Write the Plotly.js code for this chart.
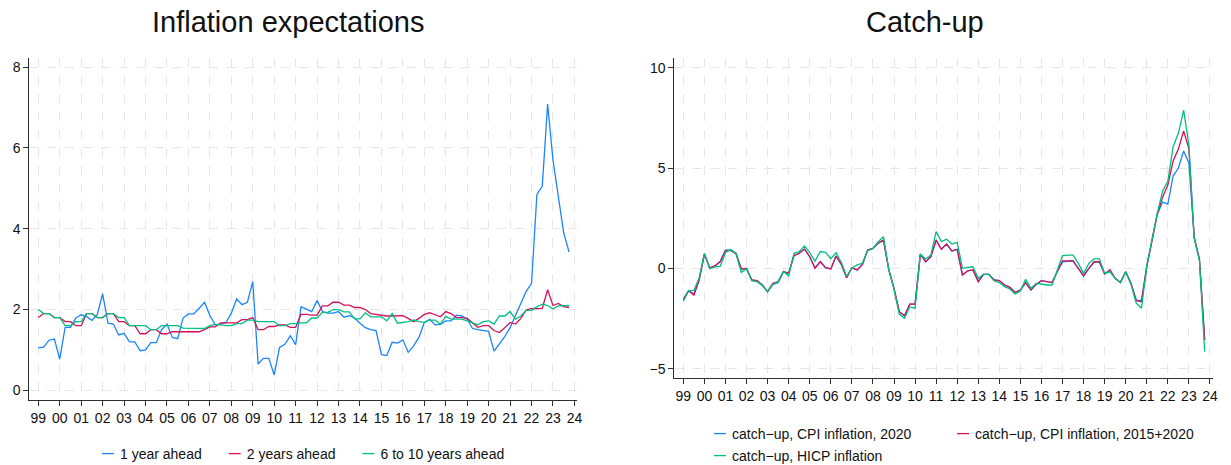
<!DOCTYPE html>
<html><head><meta charset="utf-8">
<script src="https://cdn.plot.ly/plotly-3.0.1.min.js"></script>
<style>html,body{margin:0;padding:0;background:#fff}#chart{width:1231px;height:465px}</style>
</head><body><div id="chart"></div>
<script>
// Quarterly observations 1999Q1 .. 2023Q4
const firstYear = 1999;
const lastYear = 2023;
const quarterTimes = [];
for (let y = firstYear; y <= lastYear; y++) { for (let q = 0; q < 4; q++) quarterTimes.push(y + q / 4); }

const tickYears = [1999,2000,2001,2002,2003,2004,2005,2006,2007,2008,2009,2010,2011,2012,2013,2014,2015,2016,2017,2018,2019,2020,2021,2022,2023,2024];
const tickLabels = ['99','00','01','02','03','04','05','06','07','08','09','10','11','12','13','14','15','16','17','18','19','20','21','22','23','24'];

// Left panel: Inflation expectations
const oneYearAhead = [
 1.05,1.07,1.24,1.27, 0.77,1.56,1.56,1.79, 1.87,1.83,1.73,1.87, 2.39,1.66,1.64,1.37,
 1.41,1.20,1.20,0.98, 1.00,1.18,1.18,1.50, 1.64,1.31,1.28,1.79, 1.89,1.89,2.03,2.18,
 1.85,1.62,1.64,1.68, 1.91,2.26,2.12,2.18, 2.69,0.65,0.79,0.79, 0.38,1.06,1.14,1.35,
 1.13,2.07,2.01,1.95, 2.22,1.95,1.91,1.91, 1.95,1.81,1.85,1.79, 1.66,1.55,1.50,1.48,
 0.88,0.86,1.19,1.17, 1.25,0.94,1.10,1.31, 1.68,1.76,1.62,1.63, 1.72,1.72,1.86,1.84,
 1.76,1.53,1.50,1.48, 1.46,0.97,1.14,1.33, 1.55,1.85,2.15,2.45, 2.65,4.85,5.05,7.09,
 5.70,4.80,3.90,3.42];
const twoYearsAhead = [
 1.80,1.90,1.90,1.80, 1.80,1.70,1.70,1.60, 1.60,1.90,1.90,1.80, 1.80,1.90,1.90,1.70,
 1.70,1.60,1.60,1.40, 1.40,1.50,1.50,1.40, 1.40,1.45,1.45,1.45, 1.45,1.45,1.45,1.50,
 1.57,1.57,1.67,1.67, 1.67,1.67,1.75,1.75, 1.80,1.50,1.50,1.58, 1.58,1.62,1.62,1.56,
 1.56,1.88,1.88,1.86, 1.86,2.09,2.09,2.18, 2.18,2.11,2.11,2.05, 2.05,2.00,1.90,1.88,
 1.86,1.84,1.84,1.85, 1.85,1.78,1.70,1.78, 1.88,1.92,1.87,1.82, 1.95,1.90,1.80,1.80,
 1.78,1.66,1.56,1.60, 1.60,1.48,1.43,1.55, 1.68,1.64,1.78,1.99, 2.03,2.02,2.03,2.49,
 2.10,2.15,2.07,2.05];
const sixToTenYearsAhead = [
 2.00,1.90,1.90,1.80, 1.80,1.60,1.60,1.70, 1.70,1.90,1.90,1.80, 1.80,1.90,1.90,1.80,
 1.80,1.60,1.60,1.60, 1.60,1.50,1.50,1.60, 1.60,1.60,1.60,1.54, 1.54,1.54,1.53,1.53,
 1.60,1.63,1.62,1.60, 1.60,1.65,1.65,1.74, 1.74,1.70,1.70,1.70, 1.70,1.60,1.60,1.65,
 1.65,1.67,1.67,1.79, 1.79,1.93,1.93,2.00, 2.00,1.94,1.94,1.77, 1.77,1.92,1.82,1.82,
 1.82,1.72,1.90,1.66, 1.68,1.70,1.74,1.70, 1.68,1.74,1.74,1.64, 1.83,1.76,1.76,1.76,
 1.72,1.66,1.62,1.70, 1.72,1.64,1.84,1.84, 1.95,1.76,1.84,1.98, 1.98,2.07,2.13,2.10,
 2.02,2.09,2.10,2.10];

// Right panel: Catch-up
const catchupCPI2020 = [
 -1.54,-1.11,-1.28,-0.58, 0.71,0.03,0.12,0.35, 0.92,0.90,0.75,-0.03, 0.00,-0.58,-0.63,-0.85,
 -1.16,-0.80,-0.72,-0.17, -0.25,0.63,0.75,0.96, 0.58,0.02,0.35,0.03, -0.03,0.61,0.20,-0.47,
 0.03,-0.08,0.20,0.91, 1.00,1.25,1.41,-0.05, -1.00,-2.16,-2.36,-1.78, -1.78,0.71,0.33,0.58,
 1.41,0.95,1.21,0.86, 0.95,-0.33,-0.12,-0.08, -0.66,-0.30,-0.30,-0.58, -0.61,-0.83,-0.95,-1.20,
 -1.08,-0.71,-1.08,-0.80, -0.61,-0.66,-0.71,-0.17, 0.33,0.35,0.35,0.00, -0.37,0.00,0.30,0.33,
 -0.28,-0.08,-0.50,-0.70, -0.17,-0.75,-1.58,-1.60, 0.10,1.40,2.70,3.30, 3.20,4.60,5.00,5.85,
 5.25,1.55,0.45,-3.57];
const catchupCPI2015and2020 = [
 -1.54,-1.11,-1.33,-0.58, 0.71,0.03,0.12,0.33, 0.88,0.88,0.75,-0.03, 0.00,-0.58,-0.61,-0.83,
 -1.16,-0.75,-0.66,-0.17, -0.22,0.63,0.75,0.96, 0.58,0.00,0.33,0.03, -0.03,0.61,0.20,-0.47,
 0.03,-0.08,0.20,0.91, 1.00,1.25,1.41,-0.05, -1.00,-2.16,-2.36,-1.78, -1.78,0.71,0.33,0.58,
 1.41,0.95,1.21,0.86, 0.95,-0.33,-0.12,-0.08, -0.66,-0.30,-0.30,-0.58, -0.61,-0.83,-0.95,-1.20,
 -1.08,-0.71,-1.08,-0.80, -0.61,-0.66,-0.71,-0.17, 0.37,0.37,0.38,0.00, -0.37,0.00,0.33,0.33,
 -0.28,-0.08,-0.50,-0.70, -0.17,-0.75,-1.61,-1.66, 0.10,1.40,2.70,3.55, 4.15,5.35,5.95,6.85,
 5.95,1.55,0.45,-3.57];
const catchupHICP = [
 -1.64,-1.11,-1.10,-0.48, 0.75,-0.02,0.07,0.10, 0.78,0.95,0.72,-0.20, -0.02,-0.63,-0.66,-0.85,
 -1.16,-0.80,-0.66,-0.15, -0.38,0.75,0.83,1.11, 0.78,0.36,0.84,0.80, 0.48,0.78,0.29,-0.40,
 0.02,0.17,0.25,0.88, 0.98,1.33,1.58,-0.05, -1.05,-2.28,-2.49,-1.91, -1.99,0.71,0.47,0.66,
 1.83,1.33,1.45,1.21, 1.30,0.00,0.05,0.08, -0.50,-0.30,-0.30,-0.62, -0.71,-0.91,-1.03,-1.28,
 -1.13,-0.55,-1.00,-0.75, -0.78,-0.83,-0.83,-0.08, 0.63,0.66,0.66,0.25, -0.25,0.25,0.47,0.47,
 -0.25,-0.17,-0.50,-0.71, -0.17,-0.80,-1.74,-1.99, 0.10,1.45,2.75,3.85, 4.35,6.06,6.73,7.89,
 6.15,1.50,0.40,-4.15];

const C_BLUE = '#1a85ff', C_RED = '#d41159', C_GREEN = '#00bf7f';
const LW = 1.3;

function tr(y, name, color, xa, ya, lg) {
  return {x: quarterTimes, y: y, name: name, type: 'scatter', mode: 'lines',
          line: {color: color, width: LW}, xaxis: xa, yaxis: ya, legend: lg, hoverinfo: 'skip'};
}
const data = [
  tr(oneYearAhead, '1 year ahead', C_BLUE, 'x', 'y', 'legend'),
  tr(twoYearsAhead, '2 years ahead', C_RED, 'x', 'y', 'legend'),
  tr(sixToTenYearsAhead, '6 to 10 years ahead', C_GREEN, 'x', 'y', 'legend'),
  tr(catchupCPI2020, 'catch\u2212up, CPI inflation, 2020', C_BLUE, 'x2', 'y2', 'legend2'),
  tr(catchupCPI2015and2020, 'catch\u2212up, CPI inflation, 2015+2020', C_RED, 'x2', 'y2', 'legend3'),
  tr(catchupHICP, 'catch\u2212up, HICP inflation', C_GREEN, 'x2', 'y2', 'legend4')
];

const AX = '#2e2e2e', GRID = '#e6e6e6';
function xax(domain, range, anchor) {
  return {domain: domain, range: range, anchor: anchor, tickvals: tickYears, ticktext: tickLabels,
    showline: true, linecolor: AX, linewidth: 1, ticks: 'outside', ticklen: 5, tickcolor: AX, tickwidth: 1,
    showgrid: true, gridcolor: GRID, griddash: 'dash', gridwidth: 1, zeroline: false,
    tickfont: {size: 14, color: '#111'}, fixedrange: true};
}
function yax(domain, range, anchor, tv) {
  return {domain: domain, range: range, anchor: anchor, tickvals: tv,
    showline: true, linecolor: AX, linewidth: 1, ticks: 'outside', ticklen: 5, tickcolor: AX, tickwidth: 1,
    showgrid: true, gridcolor: GRID, griddash: 'dash', gridwidth: 1, zeroline: false,
    tickfont: {size: 14, color: '#111'}, fixedrange: true};
}
const W = 1231, H = 465;
const px = v => v / W, py = v => 1 - v / H;
const legendBase = {orientation: 'h', xanchor: 'left', yanchor: 'middle', font: {size: 14, color: '#111'},
  bgcolor: 'rgba(0,0,0,0)', borderwidth: 0, itemclick: false, itemdoubleclick: false};

const layout = {
  width: W, height: H, margin: {l: 0, r: 0, t: 0, b: 0, autoexpand: false},
  paper_bgcolor: '#fff', plot_bgcolor: '#fff',
  font: {family: 'Liberation Sans, Arial, sans-serif', color: '#111'},
  xaxis: xax([px(29.3), px(577)], [1998.58, 2024.12], 'y'),
  yaxis: yax([1 - 400/H, 1 - 58.3/H], [-0.24, 8.22], 'x', [0, 2, 4, 6, 8]),
  xaxis2: xax([px(674.3), px(1212.7)], [1998.57, 2024.13], 'y2'),
  yaxis2: yax([1 - 378.3/H, 1 - 58.3/H], [-5.48, 10.47], 'x2', [-5, 0, 5, 10]),
  legend: Object.assign({}, legendBase, {x: px(80), y: py(454)}),
  legend2: Object.assign({}, legendBase, {x: px(692), y: py(434)}),
  legend3: Object.assign({}, legendBase, {x: px(935), y: py(434)}),
  legend4: Object.assign({}, legendBase, {x: px(692), y: py(456)}),
  annotations: [
    {text: 'Inflation expectations', xref: 'paper', yref: 'paper', x: px(288), y: py(22),
     xanchor: 'center', yanchor: 'middle', showarrow: false, font: {size: 29, color: '#111'}},
    {text: 'Catch-up', xref: 'paper', yref: 'paper', x: px(925), y: py(22),
     xanchor: 'center', yanchor: 'middle', showarrow: false, font: {size: 29, color: '#111'}}
  ],
  showlegend: true
};
Plotly.newPlot('chart', data, layout, {displayModeBar: false, staticPlot: true}).then(function () {
  // shorten legend line samples to the short stubs of the original
  document.querySelectorAll('.legendlines path').forEach(function (p) { p.setAttribute('d', 'M22,0h12'); });
});
</script>
</body></html>
